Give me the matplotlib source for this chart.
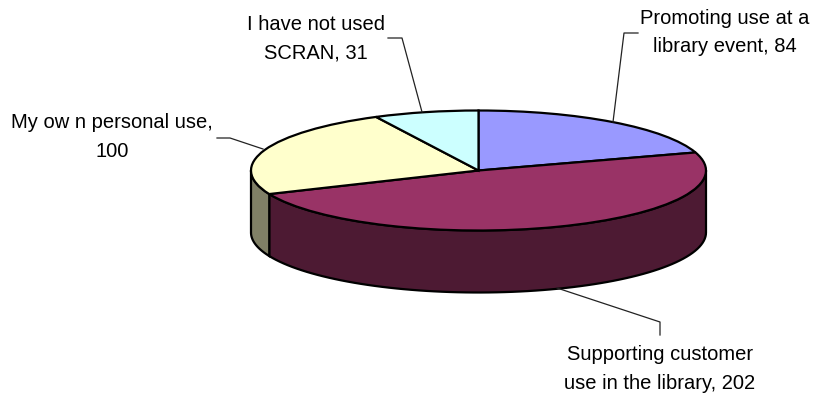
import numpy as np
import matplotlib
matplotlib.use('Agg')
import matplotlib.pyplot as plt

plt.rcParams['font.family'] = ['Liberation Sans', 'DejaVu Sans']

# slices, clockwise from 12 o'clock
values = [84, 202, 100, 31]
top_colors = ['#9999FF', '#993366', '#FFFFCC', '#CCFFFF']
side_colors = ['#4D4D80', '#4D1A33', '#808066', '#668080']

labels = ['Promoting use at a\nlibrary event, 84',
          'Supporting customer\nuse in the library, 202',
          'My ow n personal use,\n100',
          'I have not used\nSCRAN, 31']
label_xy = [(725, 32.5), (660, 369), (112, 137), (316, 39)]
leaders = [[(638, 33), (624, 33), (613, 122)],
           [(660, 335), (660, 322), (557, 288)],
           [(217, 138), (230, 138), (263, 149)],
           [(388, 38), (402, 38), (422, 112)]]

W, H = 814, 398
cx, cy, rx, ry, depth = 478.5, 170.5, 227.5, 60, 62

fig = plt.figure(figsize=(W / 100, H / 100), dpi=100)

# one data unit = the ellipse radius, so the pie comes out squashed
ax = fig.add_axes([0, 0, 1, 1])
wedges, _ = ax.pie(values, colors=top_colors, startangle=90, counterclock=False,
                   wedgeprops=dict(edgecolor='black', linewidth=1.6, zorder=3))
ax.set_aspect('auto')
ax.set_xlim(-cx / rx, (W - cx) / rx)
ax.set_ylim((cy - H) / ry, cy / ry)
ax.axis('off')

# rim of the disc, only the front half shows
d = depth / ry
for w, c in zip(wedges, side_colors):
    for shift in (0, -360):
        t1 = max(w.theta1 + shift, -180)
        t2 = min(w.theta2 + shift, 0)
        if t2 <= t1:
            continue
        t = np.radians(np.linspace(t1, t2, 80))
        xs = np.cos(t)
        ys = np.sin(t)
        ax.fill(np.r_[xs, xs[::-1]], np.r_[ys, ys[::-1] - d],
                facecolor=c, edgecolor='black', linewidth=1.6, zorder=1)

# labels and leader lines in pixel coordinates
ov = fig.add_axes([0, 0, 1, 1])
ov.set_xlim(0, W)
ov.set_ylim(H, 0)
ov.axis('off')
ov.patch.set_alpha(0)
for txt, (x, y), pts in zip(labels, label_xy, leaders):
    ov.text(x, y, txt, ha='center', va='center', fontsize=14.5, color='black',
            linespacing=1.65, multialignment='center')
    ov.plot([p[0] for p in pts], [p[1] for p in pts], color='#222222', lw=0.9)

fig.savefig('out.png', dpi=100)
